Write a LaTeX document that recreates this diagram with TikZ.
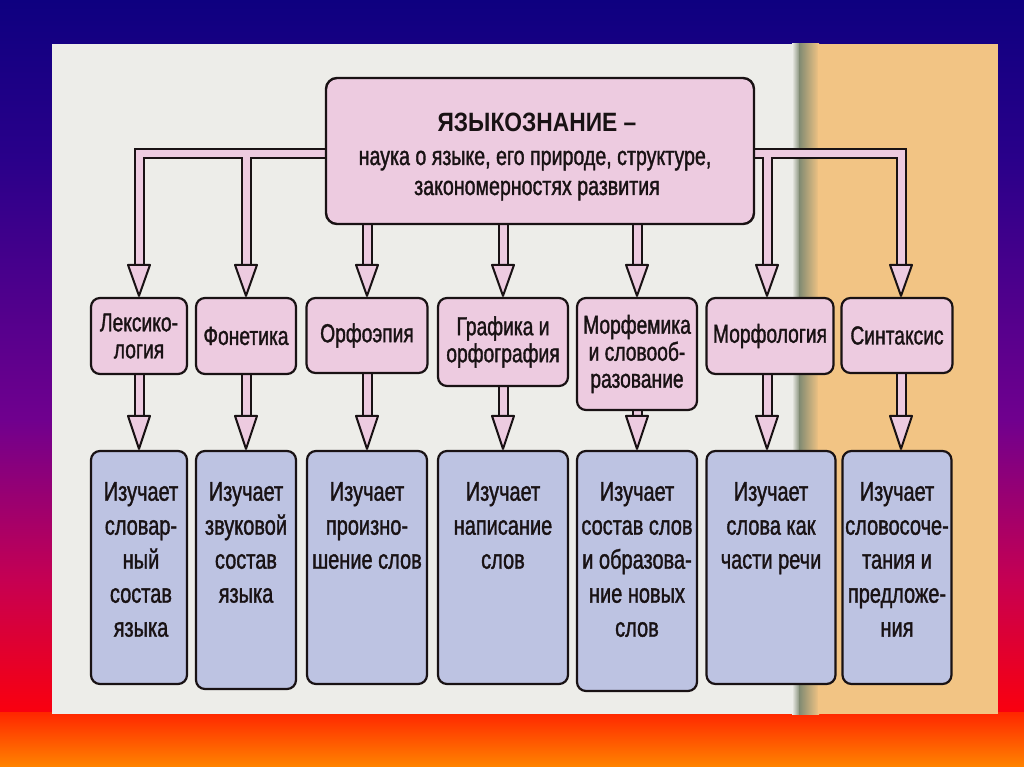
\documentclass[tikz,border=0pt]{standalone}
\usepackage{fontspec}
\setmainfont{Liberation Sans}[FakeStretch=0.74,FakeBold=1.3]
\newfontfamily\titlefont{Liberation Sans}[FakeStretch=0.86]
\usetikzlibrary{calc}
\pgfdeclarelayer{backdrop}
\pgfdeclarelayer{background}
\pgfsetlayers{backdrop,background,main}
\definecolor{ink}{RGB}{25,18,20}
\definecolor{pinkc}{RGB}{237,203,224}
\definecolor{bluec}{RGB}{189,195,226}
\definecolor{paperc}{RGB}{237,237,233}
\definecolor{orangec}{RGB}{242,196,132}
\definecolor{shadowc}{RGB}{128,138,114}
\definecolor{bgA}{RGB}{14,0,128}
\definecolor{bgB}{RGB}{42,0,138}
\definecolor{bgC}{RGB}{112,0,142}
\definecolor{bgD}{RGB}{198,0,82}
\definecolor{bgE}{RGB}{250,0,14}
\definecolor{bgF}{RGB}{255,38,0}
\definecolor{bgG}{RGB}{255,132,0}
\begin{document}
\begin{tikzpicture}[x=1pt,y=-1pt,
  pinkbox/.style={draw=ink, line width=2.2pt, rounded corners=9pt, fill=pinkc,
    align=center, inner sep=0pt, text=ink, font=\fontsize{26}{27}\selectfont},
  bluebox/.style={draw=ink, line width=2.2pt, rounded corners=9pt, fill=bluec, inner sep=0pt},
  bluetext/.style={align=center, inner sep=0pt, text=ink, anchor=north,
    font=\fontsize{27}{34}\selectfont},
  maintext/.style={inner sep=0pt, anchor=base, text=ink, font=\fontsize{26.5}{30}\selectfont},
  bandout/.style={draw=ink, line width=11pt, line join=miter, line cap=butt},
  bandin/.style={draw=pinkc, line width=7pt, line join=miter, line cap=butt},
  head/.style={fill=pinkc, draw=ink, line width=2pt, line join=round}]
\useasboundingbox (0,0) rectangle (1024,767);

% backdrop
\begin{pgfonlayer}{backdrop}
\shade[top color=bgA, bottom color=bgB] (0,0) rectangle (1024,161);
\shade[top color=bgB, bottom color=bgC] (0,160) rectangle (1024,421);
\shade[top color=bgC, bottom color=bgD] (0,420) rectangle (1024,581);
\shade[top color=bgD, bottom color=bgE] (0,580) rectangle (1024,713);
\shade[top color=bgF, bottom color=bgG] (0,712) rectangle (1024,767);
\fill[paperc] (52,44) rectangle (793,714);
\shade[left color=paperc, right color=shadowc] (792,44) rectangle (800,714);
\shade[left color=shadowc, right color=orangec] (799,44) rectangle (819,714);
\fill[orangec] (818,44) rectangle (998,714);
\end{pgfonlayer}

% main box and texts
\node[draw=ink, line width=2.4pt, rounded corners=11pt, fill=pinkc,
      minimum width=428pt, minimum height=146pt, inner sep=0pt] (main) at (540,151) {};
\node[maintext, font=\titlefont\bfseries\fontsize{26.5}{30}\selectfont] (t0) at (537,132) {ЯЗЫКОЗНАНИЕ –};
\node[maintext] (t1) at (535,165) {наука о языке, его природе, структуре,};
\node[maintext] (t2) at (537,195) {закономерностях развития};

% second row
\node[pinkbox, minimum width=96pt, minimum height=76pt] (lex) at (139,336) {Лексико-\\логия};
\node[pinkbox, minimum width=100pt, minimum height=76pt] (fon) at (246,336) {Фонетика};
\node[pinkbox, minimum width=121pt, minimum height=75pt] (orf) at (367,335.5) {Орфоэпия};
\node[pinkbox, minimum width=130pt, minimum height=88pt] (graf) at (503,342) {Графика и\\орфография};
\node[pinkbox, minimum width=120pt, minimum height=112pt] (morfem) at (637,354) {Морфемика\\и словооб-\\разование};
\node[pinkbox, minimum width=127pt, minimum height=76pt] (morf) at (770,336) {Морфология};
\node[pinkbox, minimum width=111pt, minimum height=75pt] (sin) at (897,335.5) {Синтаксис};

% third row
\node[bluebox, minimum width=96pt, minimum height=233pt] (b1) at (139,567.5) {};
\node[bluebox, minimum width=100pt, minimum height=238pt] (b2) at (246,570) {};
\node[bluebox, minimum width=120pt, minimum height=233pt] (b3) at (367,567.5) {};
\node[bluebox, minimum width=130pt, minimum height=233pt] (b4) at (503,567.5) {};
\node[bluebox, minimum width=120pt, minimum height=240pt] (b5) at (637,571) {};
\node[bluebox, minimum width=129pt, minimum height=233pt] (b6) at (771,567.5) {};
\node[bluebox, minimum width=109pt, minimum height=233pt] (b7) at (897,567.5) {};

\node[bluetext] (b1t) at ($(b1.north)+(2,32)$) {Изучает\\словар-\\ный\\состав\\языка};
\node[bluetext] (b2t) at ($(b2.north)+(0,32)$) {Изучает\\звуковой\\состав\\языка};
\node[bluetext] (b3t) at ($(b3.north)+(0,32)$) {Изучает\\произно-\\шение слов};
\node[bluetext] (b4t) at ($(b4.north)+(0,32)$) {Изучает\\написание\\слов};
\node[bluetext] (b5t) at ($(b5.north)+(0,32)$) {Изучает\\состав слов\\и образова-\\ние новых\\слов};
\node[bluetext] (b6t) at ($(b6.north)+(0,32)$) {Изучает\\слова как\\части речи};
\node[bluetext] (b7t) at ($(b7.north)+(0,32)$) {Изучает\\словосоче-\\тания и\\предложе-\\ния};

% connectors
\begin{pgfonlayer}{background}
\foreach \s in {bandout,bandin}{
  \draw[\s] ($(main.west)+(0,3)$) -| ($(lex.north)+(0,-32)$);
  \draw[\s] ($(fon.north |- main.west)+(0,3)$) -- ($(fon.north)+(0,-32)$);
  \draw[\s] ($(main.east)+(0,3)$) -| ($(sin.north)+(4,-32)$);
  \draw[\s] ($(morf.north |- main.east)+(-3,3)$) -- ($(morf.north)+(-3,-32)$);
  \draw[\s] (orf.north |- main.south) -- ($(orf.north)+(0,-32)$);
  \draw[\s] (graf.north |- main.south) -- ($(graf.north)+(0,-32)$);
  \draw[\s] (morfem.north |- main.south) -- ($(morfem.north)+(0,-32)$);
  \draw[\s] (lex.south) -- ($(b1.north)+(0,-34)$);
  \draw[\s] (fon.south) -- ($(b2.north)+(0,-34)$);
  \draw[\s] (orf.south) -- ($(b3.north)+(0,-34)$);
  \draw[\s] (graf.south) -- ($(b4.north)+(0,-34)$);
  \draw[\s] (morfem.south) -- ($(b5.north)+(0,-34)$);
  \draw[\s] ($(morf.south)+(-3,0)$) -- ($(b6.north)+(-4,-34)$);
  \draw[\s] ($(sin.south)+(4,0)$) -- ($(b7.north)+(4,-34)$);
}
\end{pgfonlayer}
% arrow heads
\foreach \n/\dx in {lex/0,fon/0,orf/0,graf/0,morfem/0,morf/-3,sin/4}{
  \filldraw[head] ($(\n.north)+(\dx-11,-32)$) -- ($(\n.north)+(\dx+11,-32)$) -- ($(\n.north)+(\dx,-1)$) -- cycle;
}
\foreach \n/\dx in {b1/0,b2/0,b3/0,b4/0,b5/0,b6/-4,b7/4}{
  \filldraw[head] ($(\n.north)+(\dx-11,-34)$) -- ($(\n.north)+(\dx+11,-34)$) -- ($(\n.north)+(\dx,-1)$) -- cycle;
}
\end{tikzpicture}
\end{document}
